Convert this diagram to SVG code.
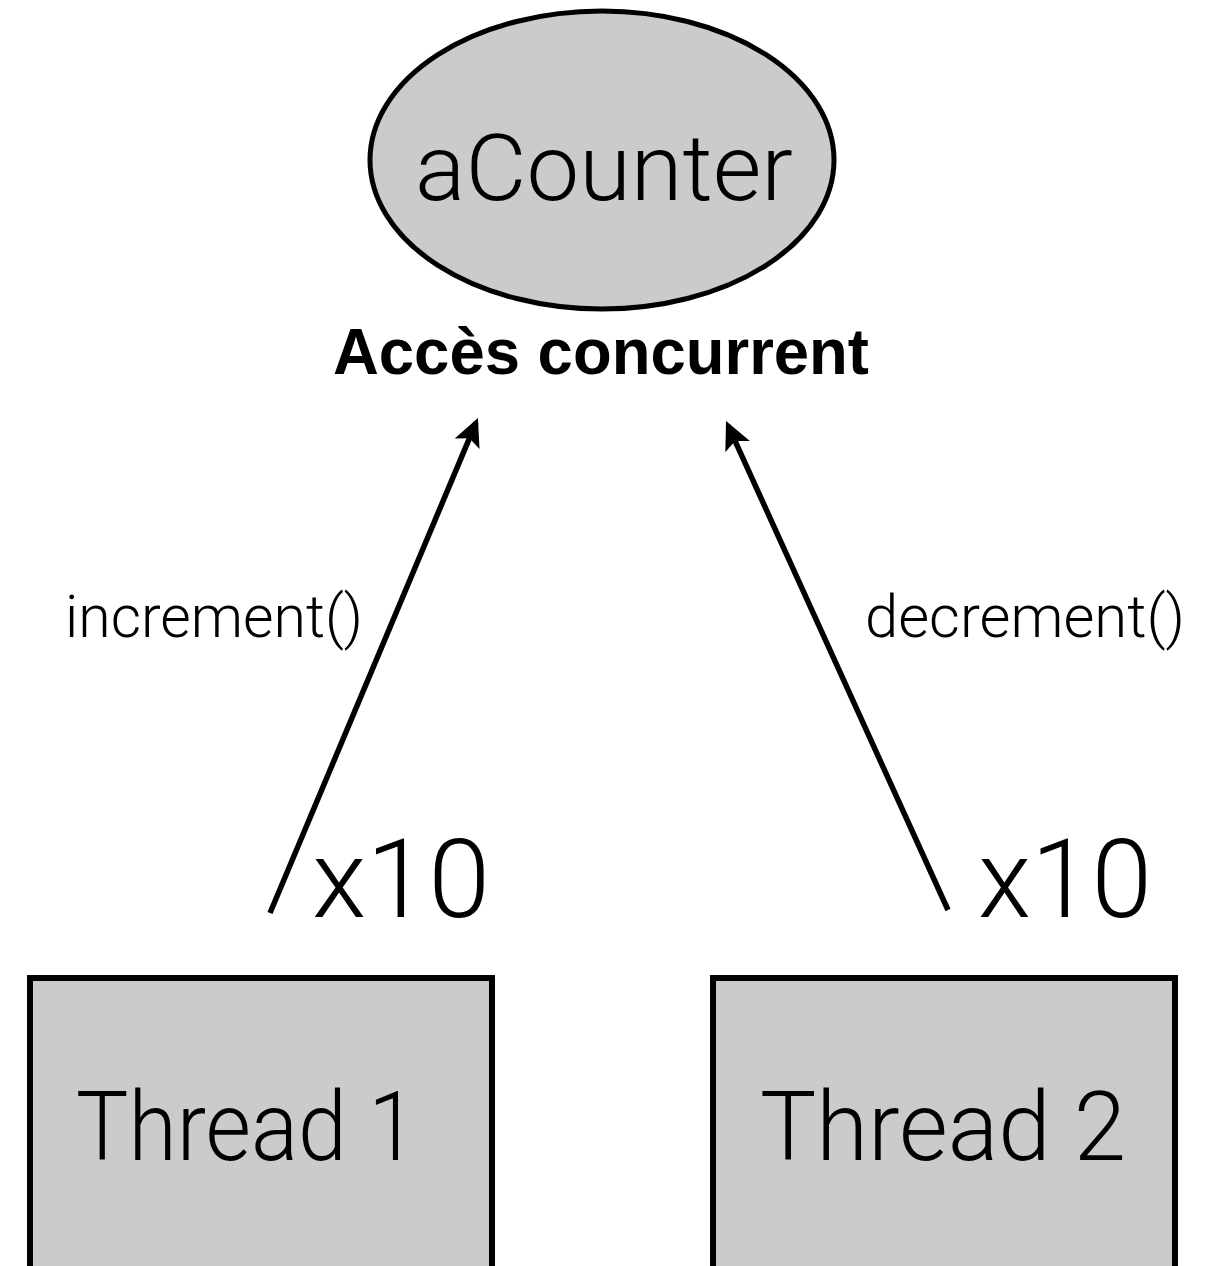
<svg xmlns="http://www.w3.org/2000/svg" width="1206" height="1266" viewBox="0 0 1206 1266">
  <style>
    .shape { fill: #cbcbcb; stroke: #000; }
    .light { font-family: Roboto, "Liberation Sans", sans-serif; font-weight: 300; fill: #000; }
    .bold { font-family: "Liberation Sans", Arial, sans-serif; font-weight: bold; fill: #000; }
    .edge { stroke: #000; stroke-width: 5.5; fill: none; marker-end: url(#head); }
  </style>
  <defs>
    <marker id="head" viewBox="0 0 28 27" refX="23" refY="13.5" markerWidth="28" markerHeight="27" markerUnits="userSpaceOnUse" orient="auto">
      <path d="M0,0 L28,13.5 L0,27 L6,13.5 Z" fill="#000"/>
    </marker>
  </defs>
  <rect width="1206" height="1266" fill="#fff"/>

  <g id="counter">
    <ellipse class="shape" cx="602" cy="160" rx="232" ry="149" stroke-width="5"/>
    <text class="light" x="415" y="200" font-size="92" textLength="378" lengthAdjust="spacingAndGlyphs">aCounter</text>
  </g>

  <g id="concurrent-label">
    <text class="bold" x="333" y="374" font-size="64" textLength="536" lengthAdjust="spacingAndGlyphs">Accès concurrent</text>
  </g>

  <g id="thread1">
    <rect class="shape" x="30" y="978" width="462" height="300" stroke-width="6"/>
    <text class="light" x="76" y="1160" font-size="96" textLength="341" lengthAdjust="spacingAndGlyphs">Thread 1</text>
  </g>

  <g id="thread2">
    <rect class="shape" x="713" y="978" width="462" height="300" stroke-width="6"/>
    <text class="light" x="760" y="1160" font-size="96" textLength="366" lengthAdjust="spacingAndGlyphs">Thread 2</text>
  </g>

  <g id="connectors">
    <line class="edge" x1="270" y1="913" x2="476" y2="422.6"/>
    <line class="edge" x1="948" y1="910" x2="728.1" y2="425.6"/>
    <text class="light" x="65" y="637" font-size="60" textLength="298" lengthAdjust="spacingAndGlyphs">increment()</text>
    <text class="light" x="865" y="637" font-size="60" textLength="320" lengthAdjust="spacingAndGlyphs">decrement()</text>
    <text class="light" x="312" y="917" font-size="110" textLength="178" lengthAdjust="spacingAndGlyphs">x10</text>
    <text class="light" x="978" y="917" font-size="110" textLength="174" lengthAdjust="spacingAndGlyphs">x10</text>
  </g>
</svg>
